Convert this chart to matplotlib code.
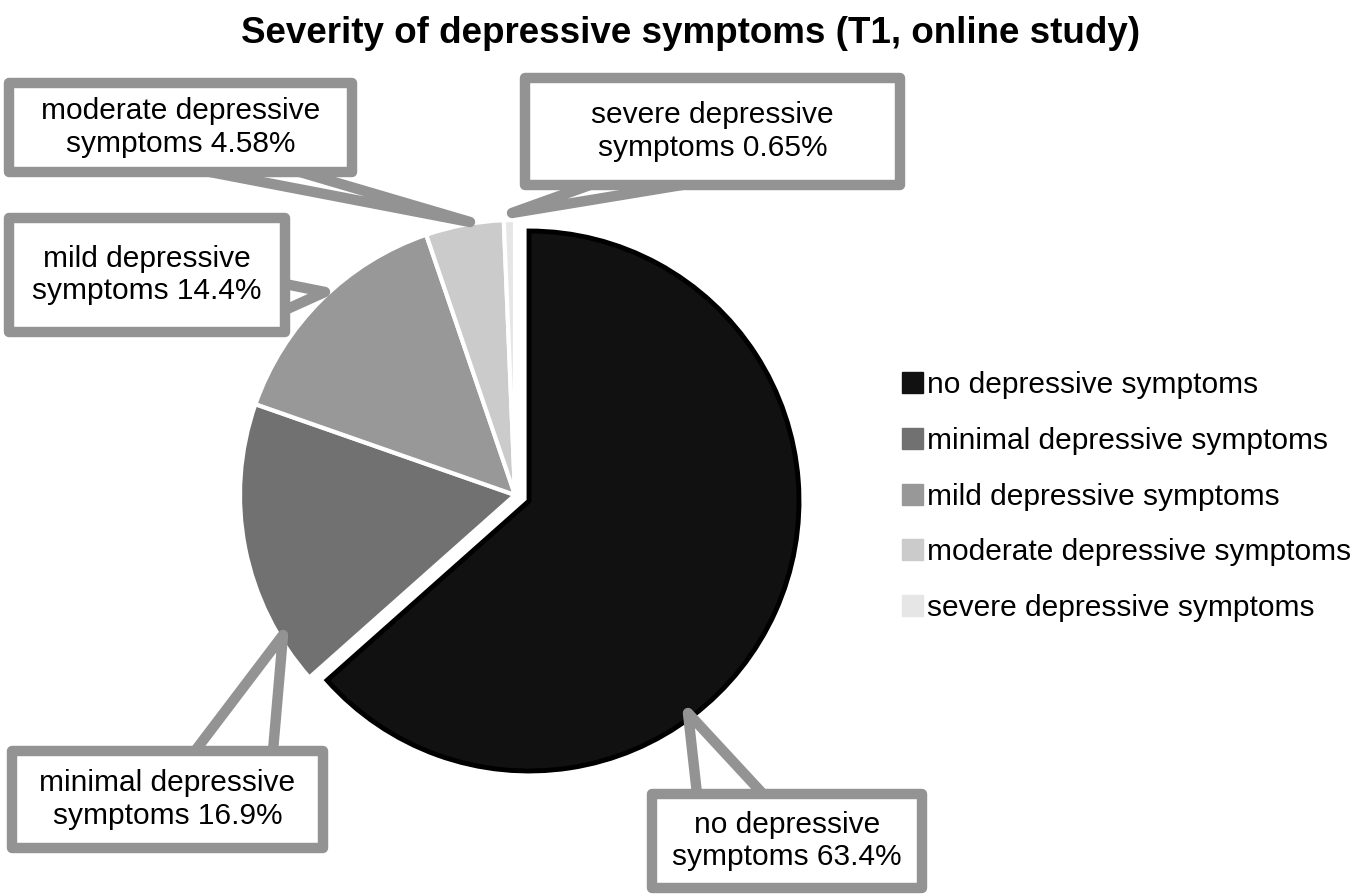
import matplotlib.pyplot as plt
from matplotlib.patches import Patch, Polygon, Rectangle

categories = ["no depressive symptoms", "minimal depressive symptoms",
              "mild depressive symptoms", "moderate depressive symptoms",
              "severe depressive symptoms"]
percent = [63.4, 16.9, 14.4, 4.58, 0.65]
label_text = ["no depressive\nsymptoms 63.4%", "minimal depressive\nsymptoms 16.9%",
              "mild depressive\nsymptoms 14.4%", "moderate depressive\nsymptoms 4.58%",
              "severe depressive\nsymptoms 0.65%"]
colors = ["#111111", "#717171", "#989898", "#cbcbcb", "#e6e6e6"]
title = "Severity of depressive symptoms (T1, online study)"

W, H = 1360, 896
GRAY = "#939393"
FONT = "Liberation Sans"


def Y(y):  # pixel row -> data y (axis points up)
    return H - y


# callout geometry in pixels: box (x0, y0, x1, y1), pointer base 1, base 2, tip
callouts = [
    ((652, 794, 922, 888), (697, 794), (763, 794), (688, 713)),
    ((12, 751, 323, 848), (195, 751), (273, 751), (283, 635)),
    ((9, 218, 285, 332), (285, 284), (285, 310), (325, 292)),
    ((9, 83, 352, 172), (210, 172), (300, 172), (470, 222)),
    ((525, 78, 900, 185), (590, 185), (682, 185), (512, 213)),
]

fig = plt.figure(figsize=(W / 100, H / 100), dpi=100)
ax = fig.add_axes([0, 0, 1, 1])

wedges, _ = ax.pie(percent, colors=colors, startangle=90, counterclock=False,
                   center=(515, Y(495)), radius=275, explode=[14, 0, 0, 0, 0],
                   wedgeprops=dict(linewidth=3, edgecolor="white"))
# the exploded slice is drawn a little smaller in the original
wedges[0].set_center((529, Y(501)))
wedges[0].set_radius(270)
wedges[0].set_edgecolor("black")
wedges[0].set_linewidth(3.5)

ax.set_xlim(0, W)
ax.set_ylim(0, H)
ax.set_aspect("equal")
ax.axis("off")

for (box, b1, b2, tip), txt in zip(callouts, label_text):
    x0, y0, x1, y1 = box
    tri = Polygon([(b1[0], Y(b1[1])), (tip[0], Y(tip[1])), (b2[0], Y(b2[1]))],
                  closed=False, facecolor="none", edgecolor=GRAY, lw=7.5,
                  joinstyle="round", capstyle="round", zorder=3)
    ax.add_patch(tri)
    rect = Rectangle((x0, Y(y1)), x1 - x0, y1 - y0, facecolor="white",
                     edgecolor=GRAY, lw=7.5, joinstyle="round", zorder=4)
    ax.add_patch(rect)
    ax.text((x0 + x1) / 2, Y((y0 + y1) / 2), txt, ha="center", va="center",
            fontsize=21.5, family=FONT, linespacing=1.22, zorder=5)

ax.text(691, Y(33), title, ha="center", va="center", fontsize=26.5,
        fontweight="bold", family=FONT)

handles = [Patch(facecolor=c, edgecolor=c) for c in colors]
ax.legend(handles, categories, loc="upper left",
          bbox_to_anchor=(902 / W, 1 - 371 / H), bbox_transform=fig.transFigure,
          frameon=False, prop={"family": FONT, "size": 21.5},
          handlelength=0.7, handleheight=0.7, handletextpad=0.15,
          labelspacing=0.93, borderpad=0, borderaxespad=0)

fig.savefig("out.png", dpi=100)
